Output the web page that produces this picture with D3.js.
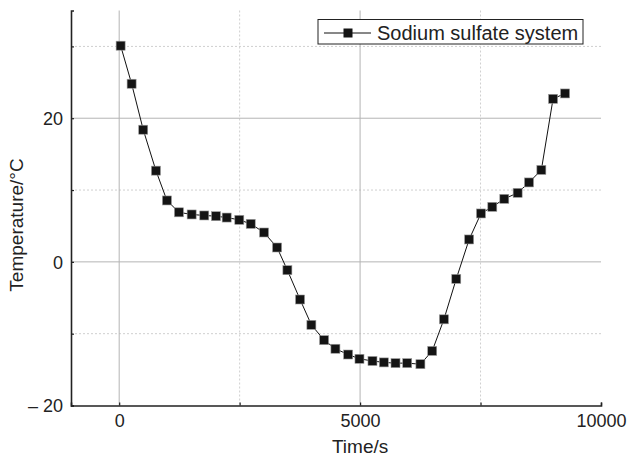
<!DOCTYPE html>
<html>
<head>
<meta charset="utf-8">
<script src="https://cdn.jsdelivr.net/npm/d3@7/dist/d3.min.js"></script>
<style>
  html, body { margin: 0; padding: 0; background: #fff; }
  svg { display: block; font-family: "Liberation Sans", Arial, sans-serif; }
</style>
</head>
<body>
<svg id="chart" width="628" height="457"></svg>
<script>
// Data
const seriesName = "Sodium sulfate system";
const timeValues = [30, 258, 499, 763, 991, 1240, 1504, 1766, 2009, 2231, 2493, 2730,
  3006, 3277, 3491, 3754, 3989, 4253, 4488, 4752, 4987, 5257, 5493, 5735, 5978, 6252,
  6497, 6740, 6996, 7263, 7509, 7744, 7993, 8270, 8506, 8762, 9005, 9254];
const tempValues = [30.1, 24.8, 18.4, 12.7, 8.55, 6.9, 6.6, 6.46, 6.36, 6.17, 5.85, 5.29,
  4.09, 2.0, -1.16, -5.24, -8.77, -10.9, -12.1, -12.9, -13.5, -13.8, -14.0, -14.1, -14.1, -14.25,
  -12.4, -8.0, -2.37, 3.12, 6.74, 7.66, 8.77, 9.61, 11.06, 12.8, 22.7, 23.45];
const xMajorTicks = [0, 5000, 10000];
const xMinorTicks = [2500, 7500];
const yMajorTicks = [-20, 0, 20];
const yMinorTicks = [-10, 10, 30];
const xDomain = [-1000, 10000];
const yDomain = [-20, 35];

const data = timeValues.map((t, i) => ({ t, v: tempValues[i] }));

const svg = d3.select("#chart");
const pLeft = 71, pRight = 601, pTop = 10.5, pBottom = 405.5;

const x = d3.scaleLinear().domain(xDomain).range([pLeft, pRight]);
const y = d3.scaleLinear().domain(yDomain).range([pBottom, pTop]);

// Minor gridlines (dashed)
const grid = svg.append("g");
grid.selectAll(".xminor").data(xMinorTicks).join("line")
  .attr("x1", d => x(d)).attr("x2", d => x(d))
  .attr("y1", pTop).attr("y2", pBottom)
  .attr("stroke", "#cfcfcf").attr("stroke-width", 1).attr("stroke-dasharray", "2,2");
grid.selectAll(".yminor").data(yMinorTicks).join("line")
  .attr("y1", d => y(d)).attr("y2", d => y(d))
  .attr("x1", pLeft).attr("x2", pRight)
  .attr("stroke", "#cfcfcf").attr("stroke-width", 1).attr("stroke-dasharray", "2,2");
// Major gridlines (solid)
grid.selectAll(".xmajor").data(xMajorTicks.filter(d => d < xDomain[1])).join("line")
  .attr("x1", d => x(d)).attr("x2", d => x(d))
  .attr("y1", pTop).attr("y2", pBottom)
  .attr("stroke", "#b4b4b4").attr("stroke-width", 1);
grid.selectAll(".ymajor").data(yMajorTicks.filter(d => d > yDomain[0])).join("line")
  .attr("y1", d => y(d)).attr("y2", d => y(d))
  .attr("x1", pLeft).attr("x2", pRight)
  .attr("stroke", "#b4b4b4").attr("stroke-width", 1);

// Axes
const xAxis = d3.axisBottom(x).tickValues(xMajorTicks.concat(xMinorTicks))
  .tickSize(-3).tickPadding(6)
  .tickFormat(d => xMajorTicks.includes(d) ? d3.format("d")(d) : "");
const yAxis = d3.axisLeft(y).tickValues(yMajorTicks.concat(yMinorTicks))
  .tickSize(-3).tickPadding(8)
  .tickFormat(d => yMajorTicks.includes(d) ? (d < 0 ? "\u2013 " + Math.abs(d) : String(d)) : "");

const gx = svg.append("g").attr("transform", `translate(0,${pBottom})`).call(xAxis);
const gy = svg.append("g").attr("transform", `translate(${pLeft},0)`).call(yAxis);
[gx, gy].forEach(g => {
  g.select(".domain").attr("stroke", "#222").attr("stroke-width", 1.6);
  g.selectAll(".tick line").attr("stroke", "#222").attr("stroke-width", 1.2);
  g.selectAll(".tick text").attr("fill", "#222").style("font-size", "18px")
    .style("font-family", '"Liberation Sans", Arial, sans-serif');
});
gx.selectAll(".tick text").attr("dy", "0.85em");
gy.selectAll(".tick text").attr("dy", "0.35em");

// Axis titles
svg.append("text").attr("x", x(5000)).attr("y", 453)
  .attr("text-anchor", "middle").attr("fill", "#222")
  .style("font-size", "19px").text("Time/s");
svg.append("text").attr("transform", "translate(23,225) rotate(-90)")
  .attr("text-anchor", "middle").attr("fill", "#222")
  .style("font-size", "19px").text("Temperature/°C");

// Line and markers
const line = d3.line().x(d => x(d.t)).y(d => y(d.v));
svg.append("path").datum(data).attr("d", line)
  .attr("fill", "none").attr("stroke", "#111").attr("stroke-width", 1);
const ms = 9;
svg.append("g").selectAll("rect").data(data).join("rect")
  .attr("x", d => x(d.t) - ms / 2).attr("y", d => y(d.v) - ms / 2)
  .attr("width", ms).attr("height", ms)
  .attr("fill", "#141414").attr("stroke", "#9a9a9a").attr("stroke-width", 0.6);

// Legend
const lg = svg.append("g");
lg.append("rect").attr("x", 318).attr("y", 19.5).attr("width", 265).attr("height", 24.5)
  .attr("fill", "#fff").attr("stroke", "#222").attr("stroke-width", 1);
lg.append("line").attr("x1", 324).attr("x2", 371).attr("y1", 33).attr("y2", 33)
  .attr("stroke", "#111").attr("stroke-width", 1);
lg.append("rect").attr("x", 348 - ms / 2).attr("y", 33 - ms / 2).attr("width", ms).attr("height", ms)
  .attr("fill", "#141414");
lg.append("text").attr("x", 377).attr("y", 33).attr("dy", "0.35em")
  .attr("fill", "#222").style("font-size", "20px").text(seriesName);
</script>
</body>
</html>
